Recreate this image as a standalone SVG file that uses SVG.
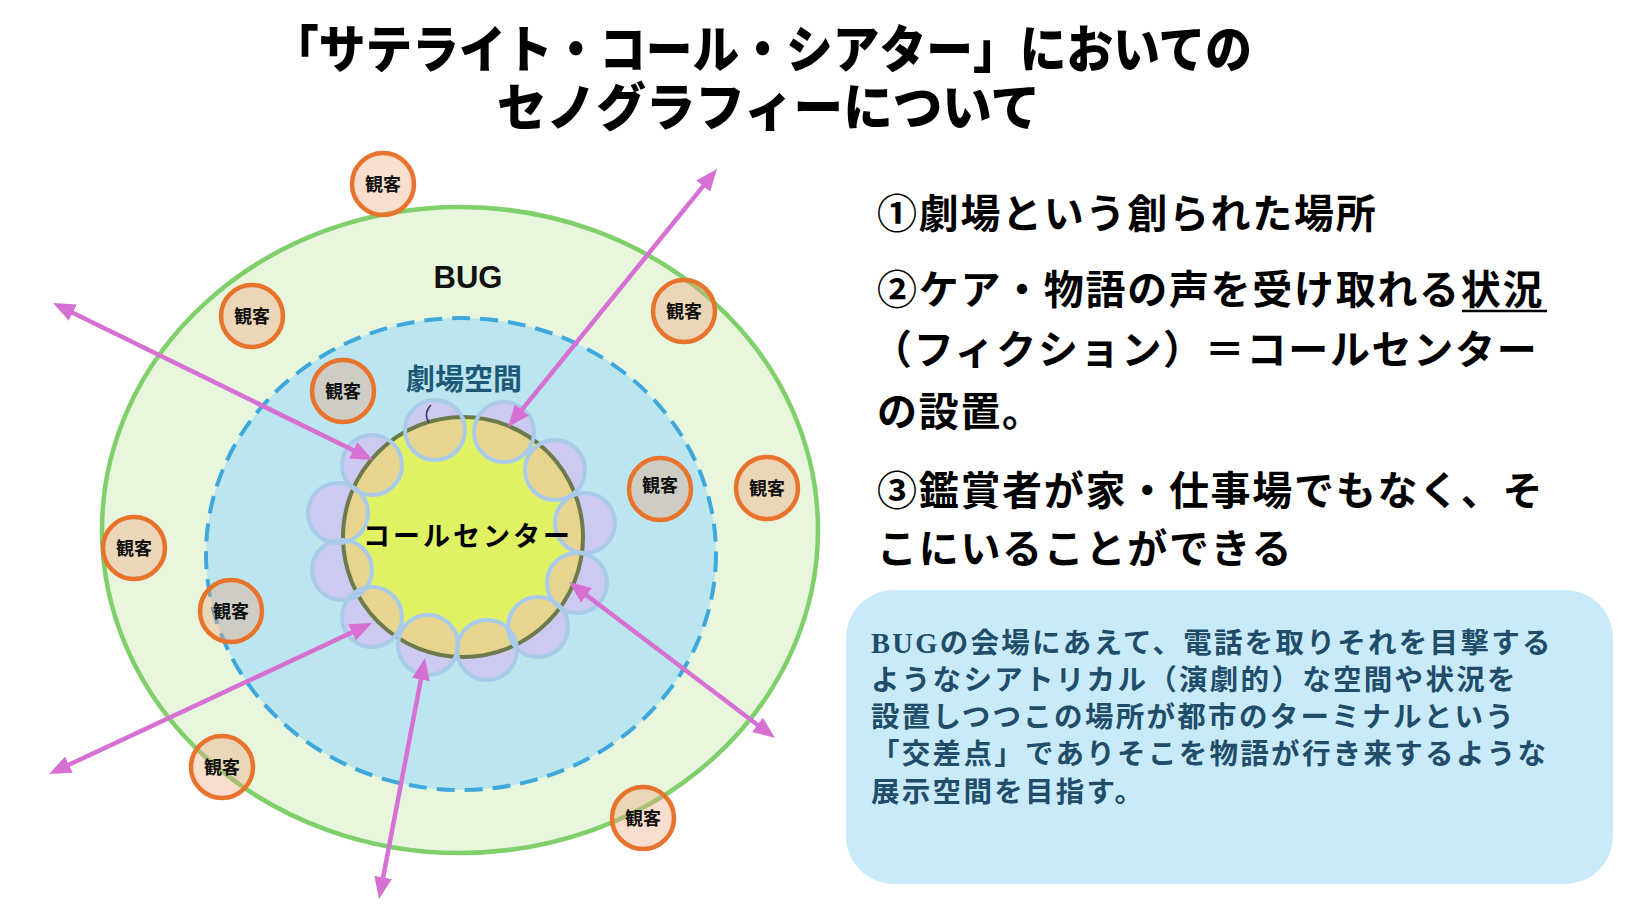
<svg xmlns="http://www.w3.org/2000/svg" width="1644" height="916" viewBox="0 0 1644 916">
<style>
.jp{font-family:"Noto Sans CJK JP","Noto Sans CJK SC",sans-serif;font-weight:700}
.title{font-size:51px;fill:#000;font-weight:900}
.item{font-size:40px;fill:#000;letter-spacing:1.7px}
.note{font-size:28.5px;fill:#1f4d6a;letter-spacing:2.3px}
.aud circle{stroke:#e8732c;stroke-width:4.5;fill:#f0a57c;fill-opacity:0.38}
.aud text{font-size:18px;fill:#111;text-anchor:middle}
.arrow{stroke:#d670d2;stroke-width:4.5;fill:none;marker-start:url(#ah);marker-end:url(#ah)}
.pet{fill:#cccaf0}
.petS{fill:none;stroke:#a9cbe9;stroke-width:4}
</style>
<defs>
<marker id="ah" markerUnits="userSpaceOnUse" markerWidth="22" markerHeight="18" refX="12" refY="9" orient="auto-start-reverse" viewBox="0 0 22 18">
<path d="M0,0 L22,9 L0,18 z" fill="#d670d2"/>
</marker>
<clipPath id="core"><circle cx="463" cy="537" r="120"/></clipPath>
<g id="petals">
<circle cx="435" cy="430" r="30"/>
<circle cx="504" cy="432" r="30"/>
<circle cx="555" cy="470" r="30"/>
<circle cx="585" cy="523" r="30"/>
<circle cx="577" cy="583" r="30"/>
<circle cx="538" cy="627" r="30"/>
<circle cx="487" cy="650" r="30"/>
<circle cx="428" cy="645" r="30"/>
<circle cx="372" cy="617" r="30"/>
<circle cx="342" cy="570" r="30"/>
<circle cx="338" cy="513" r="30"/>
<circle cx="372" cy="465" r="30"/>
</g>
</defs>
<rect width="1644" height="916" fill="#fff"/>

<g id="title" class="jp title">
<text x="272" y="68" textLength="980" lengthAdjust="spacingAndGlyphs">「サテライト・コール・シアター」においての</text>
<text x="497" y="126" textLength="543" lengthAdjust="spacingAndGlyphs">セノグラフィーについて</text>
</g>

<g id="bug-area">
<ellipse cx="460" cy="530" rx="358" ry="323" fill="#e8f6de" stroke="#7fcf6b" stroke-width="4.5"/>
<text x="468" y="288" font-family="Liberation Sans, Arial, sans-serif" font-weight="700" font-size="31" text-anchor="middle" fill="#111">BUG</text>
</g>

<g id="theater-space">
<ellipse cx="461" cy="554" rx="255" ry="236" fill="#bce6ef" stroke="#3ea8dc" stroke-width="4" stroke-dasharray="18 10"/>
<text class="jp" x="464" y="390" font-size="29" text-anchor="middle" fill="#1d5878">劇場空間</text>
</g>

<g id="call-center">
<circle cx="463" cy="537" r="120" fill="#e0f264"/>
<use href="#petals" class="pet"/>
<g clip-path="url(#core)"><use href="#petals" fill="#e7d48f"/></g>
<circle cx="463" cy="537" r="120" fill="none" stroke="#6c7b4c" stroke-width="4"/>
<use href="#petals" class="petS"/>
<path d="M431,405 q-8,8 -2,18" fill="none" stroke="#3b3d6b" stroke-width="1.6"/>
<text class="jp" x="468" y="546" font-size="27" letter-spacing="3" text-anchor="middle" fill="#000">コールセンター</text>
</g>

<g id="audience" class="jp aud">
<g id="aud1"><circle cx="383" cy="184" r="31"/><text x="383" y="191">観客</text></g>
<g id="aud2"><circle cx="252" cy="316" r="31"/><text x="252" y="323">観客</text></g>
<g id="aud3"><circle cx="343" cy="391" r="31"/><text x="343" y="398">観客</text></g>
<g id="aud4"><circle cx="684" cy="311" r="31"/><text x="684" y="318">観客</text></g>
<g id="aud5"><circle cx="660" cy="489" r="31"/><text x="660" y="492">観客</text></g>
<g id="aud6"><circle cx="767" cy="488" r="31"/><text x="767" y="495">観客</text></g>
<g id="aud7"><circle cx="134" cy="548" r="31"/><text x="134" y="555">観客</text></g>
<g id="aud8"><circle cx="231" cy="611" r="31"/><text x="231" y="618">観客</text></g>
<g id="aud9"><circle cx="222" cy="767" r="31"/><text x="222" y="774">観客</text></g>
<g id="aud10"><circle cx="643" cy="818" r="31"/><text x="643" y="825">観客</text></g>
</g>

<g id="connectors">
<line class="arrow" x1="62" y1="307.4" x2="364" y2="455.6"/>
<line class="arrow" x1="710.7" y1="176.8" x2="514.3" y2="419.2"/>
<line class="arrow" x1="767" y1="732" x2="577" y2="588"/>
<line class="arrow" x1="58.1" y1="769.8" x2="362.9" y2="627.2"/>
<line class="arrow" x1="380.9" y1="889.2" x2="423.1" y2="667.8"/>
</g>

<g id="points" class="jp item">
<text x="877" y="228">①劇場という創られた場所</text>
<text x="877" y="304">②ケア・物語の声を受け取れる状況</text>
<line x1="1462" y1="311" x2="1547" y2="311" stroke="#000" stroke-width="2.5"/>
<text x="872" y="364">（フィクション）＝コールセンター</text>
<text x="877" y="426">の設置。</text>
<text x="877" y="505">③鑑賞者が家・仕事場でもなく、そ</text>
<text x="877" y="563">こにいることができる</text>
</g>

<g id="note">
<rect x="846" y="590" width="767" height="294" rx="48" fill="#c9ebf9"/>
<g class="jp note">
<text x="871" y="653"><tspan font-family="Liberation Serif, serif">BUG</tspan>の会場にあえて、電話を取りそれを目撃する</text>
<text x="871" y="690">ようなシアトリカル（演劇的）な空間や状況を</text>
<text x="871" y="727">設置しつつこの場所が都市のターミナルという</text>
<text x="871" y="764">「交差点」でありそこを物語が行き来するような</text>
<text x="871" y="802">展示空間を目指す。</text>
</g>
</g>
</svg>
